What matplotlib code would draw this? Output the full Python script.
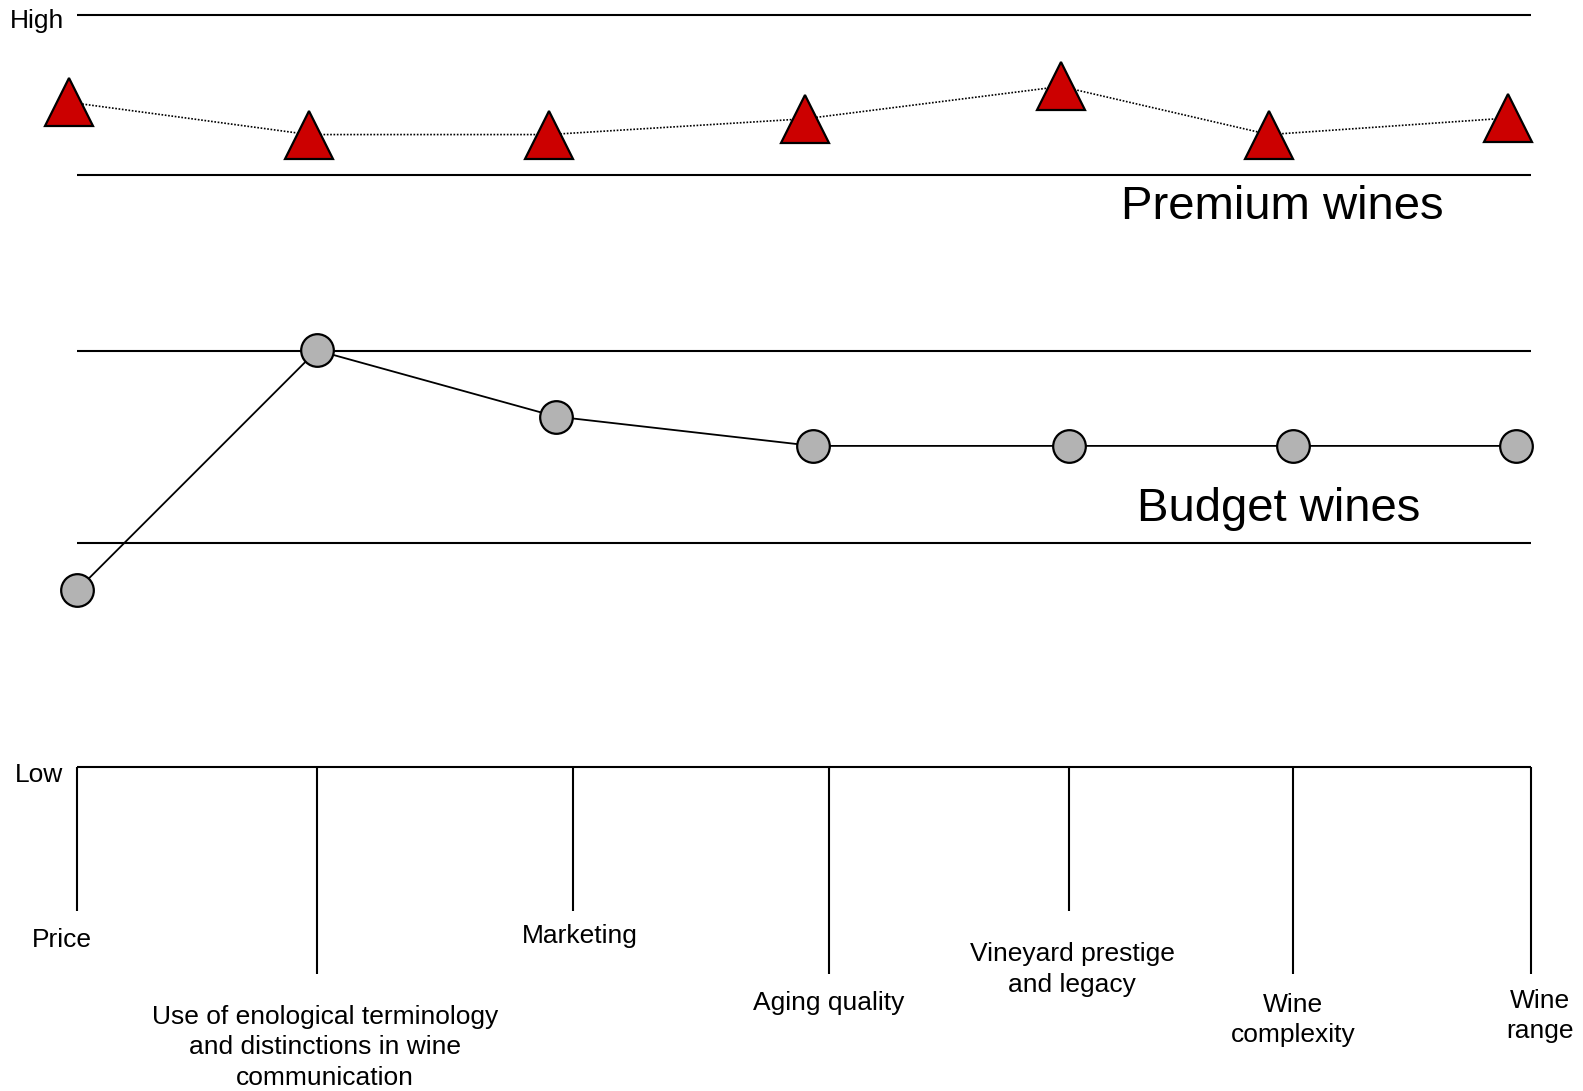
import matplotlib
matplotlib.use("Agg")
import matplotlib.pyplot as plt

plt.rcParams["font.family"] = ["Liberation Sans", "DejaVu Sans"]

# Attribute profile of premium vs budget wines, scored 0 (Low) .. 10 (High)
CATEGORIES = [
    "Price",
    "Use of enological terminology\nand distinctions in wine\ncommunication",
    "Marketing",
    "Aging quality",
    "Vineyard prestige\nand legacy",
    "Wine\ncomplexity",
    "Wine\nrange",
]
PREMIUM = [8.84, 8.41, 8.41, 8.62, 9.05, 8.41, 8.63]
BUDGET = [2.35, 5.54, 4.66, 4.27, 4.27, 4.27, 4.27]

SCALE_LOW, SCALE_HIGH = 0.0, 10.0
PREMIUM_FLOOR = 7.87
BUDGET_BAND = (2.98, 5.53)

# column layout (hand-placed columns of the diagram)
TICK_X = [0.0, 0.99, 2.047, 3.104, 4.094, 5.019, 6.0]
BUDGET_COL = [0.0, 0.99, 1.977, 3.038, 4.094, 5.019, 5.939]
PREMIUM_COL = [-0.033, 0.958, 1.948, 3.005, 4.061, 4.920, 5.906]
TICK_LEN = [1.92, 2.75, 1.92, 2.75, 1.92, 2.75, 2.75]
LABEL_DX = [-15, 8, 7, 0, 3, 0, 9]      # pixels
LABEL_DY = [36, 48, 32, 36, 49, 37, 33]  # pixels below tick end, first baseline
LINE_PX = 31.5

W, H, DPI = 1583, 1091, 100
PX_X = 242.3   # pixels per column
PX_Y = 75.2    # pixels per score unit
X0, Y0 = 77, 767  # pixel position of column 0 / score 0

fig = plt.figure(figsize=(W / DPI, H / DPI), dpi=DPI)
ax = fig.add_axes([0, 0, 1, 1])
ax.set_xlim(-X0 / PX_X, (W - X0) / PX_X)
ax.set_ylim(-(H - Y0) / PX_Y, Y0 / PX_Y)
ax.axis("off")

xmin, xmax = TICK_X[0], TICK_X[-1]
for y in (SCALE_HIGH, PREMIUM_FLOOR, BUDGET_BAND[1], BUDGET_BAND[0], SCALE_LOW):
    ax.hlines(y, xmin, xmax, color="black", lw=1.5, zorder=1)

ax.vlines(TICK_X, [-t for t in TICK_LEN], SCALE_LOW, color="black", lw=1.5,
          zorder=1)

for i, name in enumerate(CATEGORIES):
    # baseline alignment pins the last line, so push multi-line labels down
    extra = name.count("\n") * LINE_PX
    ax.annotate(name, (TICK_X[i], -TICK_LEN[i]),
                xytext=(LABEL_DX[i], -(LABEL_DY[i] + extra)),
                textcoords="offset pixels", ha="center", va="baseline",
                multialignment="center", fontsize=19, linespacing=1.336)

ax.plot(PREMIUM_COL, PREMIUM, color="black", lw=1.2,
        ls=(0, (1, 1)), marker="^", ms=34, mfc="#cc0000", mec="black", mew=1.6,
        zorder=3)
ax.plot(BUDGET_COL, BUDGET, color="black", lw=1.3, marker="o", ms=23.5,
        mfc="#b3b3b3", mec="black", mew=1.6, zorder=3)

ax.annotate("High", (xmin, SCALE_HIGH), xytext=(-40, -13),
            textcoords="offset pixels", ha="center", va="baseline", fontsize=19)
ax.annotate("Low", (xmin, SCALE_LOW), xytext=(-38, -15),
            textcoords="offset pixels", ha="center", va="baseline", fontsize=19)

ax.annotate("Premium wines", (5.0, PREMIUM_FLOOR), xytext=(-6, -44),
            textcoords="offset pixels", ha="center", va="baseline", fontsize=34)
ax.annotate("Budget wines", (5.0, BUDGET_BAND[0]), xytext=(-10, 22),
            textcoords="offset pixels", ha="center", va="baseline", fontsize=34)

fig.savefig("out.png", dpi=DPI)
